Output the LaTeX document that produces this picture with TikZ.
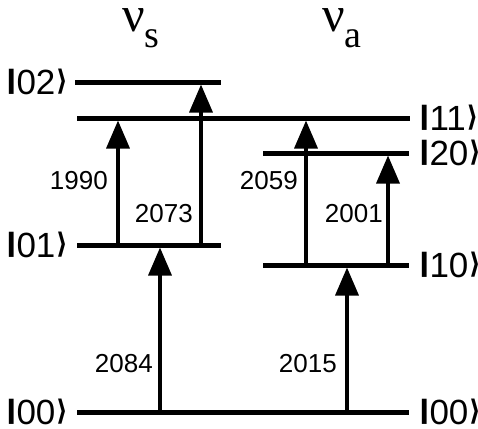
\documentclass[tikz,border=0pt]{standalone}
\usepackage{fontspec}
\setmainfont{Liberation Sans}
\newfontfamily\greekfont{Liberation Serif}
\newfontfamily\angfont{DejaVu Sans}
\usetikzlibrary{arrows.meta}
\newcommand{\ket}[1]{\kern-0.06em\scalebox{1.4}[1]{\resizebox{!}{0.72em}{\raisebox{\depth}{\bfseries|}}}\kern0.0em#1\kern0.02em\scalebox{0.9}[1]{\resizebox{!}{0.72em}{\raisebox{\depth}{\angfont\bfseries ⟩}}}}

\begin{document}
\begin{tikzpicture}[x=1pt,y=-1pt,
  level/.style={line width=5pt},
  trans/.style={line width=3.5pt,-{Triangle[width=23pt,length=28pt]},shorten >=2.5pt},
  ketlabel/.style={font=\fontsize{35}{35}\selectfont,inner sep=0pt},
  freq/.style={font=\fontsize{26}{26}\selectfont,inner sep=0pt}]
\useasboundingbox (0,0) rectangle (478,428);

  % levels
  \coordinate (l02a) at (75,82);   \coordinate (l02b) at (221,82);
  \coordinate (l11a) at (77,118);  \coordinate (l11b) at (410,118);
  \coordinate (l20a) at (263,153); \coordinate (l20b) at (409,153);
  \coordinate (l01a) at (77,245);  \coordinate (l01b) at (221,245);
  \coordinate (l10a) at (263,265); \coordinate (l10b) at (409,265);
  \coordinate (l00a) at (77,412);  \coordinate (l00b) at (409,412);

  \draw [level] (l02a) -- (l02b) (l11a) -- (l11b) (l20a) -- (l20b);
  \draw [level] (l01a) -- (l01b) (l10a) -- (l10b) (l00a) -- (l00b);

  \node (k02) at (68,94.5) [ketlabel,anchor=base east] {\ket{02}};
  \node (k01) at (68,257.5) [ketlabel,anchor=base east] {\ket{01}};
  \node (k00l) at (68,424.5) [ketlabel,anchor=base east] {\ket{00}};
  \node (k11) at (421,130.5) [ketlabel,anchor=base west] {\ket{11}};
  \node (k20) at (421,165.5) [ketlabel,anchor=base west] {\ket{20}};
  \node (k10) at (421,277.5) [ketlabel,anchor=base west] {\ket{10}};
  \node (k00r) at (421,424.5) [ketlabel,anchor=base west] {\ket{00}};

  % modes
  \node (nus) at (122,32) [inner sep=0pt,anchor=base west] {\greekfont\fontsize{50}{50}\selectfont ν\raisebox{-15pt}{\fontsize{38}{38}\selectfont s}};
  \node (nua) at (322,32) [inner sep=0pt,anchor=base west] {\greekfont\fontsize{50}{50}\selectfont ν\raisebox{-15pt}{\fontsize{38}{38}\selectfont a}};

  % transitions
  \coordinate (x2084) at (160,0);
  \coordinate (x1990) at (118,0);
  \coordinate (x2073) at (201,0);
  \coordinate (x2015) at (347,0);
  \coordinate (x2059) at (306,0);
  \coordinate (x2001) at (388,0);

  \draw [trans] (x2084 |- l00a) -- (x2084 |- l01a);
  \draw [trans] (x1990 |- l01a) -- (x1990 |- l11a);
  \draw [trans] (x2073 |- l01a) -- (x2073 |- l02a);
  \draw [trans] (x2015 |- l00a) -- (x2015 |- l10a);
  \draw [trans] (x2059 |- l10a) -- (x2059 |- l11a);
  \draw [trans] (x2001 |- l10a) -- (x2001 |- l20a);

  \node (f2084) at (153,372) [freq,anchor=base east] {2084};
  \node (f1990) at (108,189) [freq,anchor=base east] {1990};
  \node (f2073) at (193,222) [freq,anchor=base east] {2073};
  \node (f2015) at (337,372) [freq,anchor=base east] {2015};
  \node (f2059) at (298,189) [freq,anchor=base east] {2059};
  \node (f2001) at (383,222) [freq,anchor=base east] {2001};

\end{tikzpicture}
\end{document}
